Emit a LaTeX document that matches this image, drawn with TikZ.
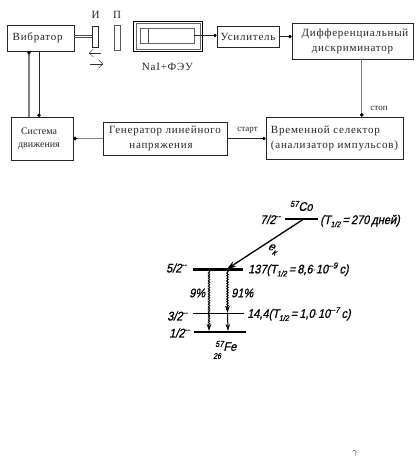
\documentclass[tikz,border=0pt]{standalone}
\usepackage{fontspec}
\setmainfont{Liberation Serif}
\newfontfamily\widefont[LetterSpace=7]{Liberation Serif}
\newfontfamily\scanfont[FakeSlant=0.22,FakeBold=0.9,FakeStretch=0.88]{Liberation Sans}
\usetikzlibrary{arrows.meta,decorations.pathmorphing}
\tikzset{
 blk/.style={draw=black!85,line width=0.8pt,inner sep=0,fill=white,align=center,text=black!85,font=\widefont\fontsize{11}{15}\selectfont},
 lbl/.style={font=\widefont\fontsize{11}{14}\selectfont,inner sep=0,align=center,text=black!85},
 small/.style={font=\fontsize{9}{10}\selectfont,inner sep=0,text=black!85},
 sca/.style={font=\scanfont\fontsize{12.5}{13}\selectfont,inner sep=0,anchor=west},
 gl/.style={draw=black!50,line width=1.2pt},
 bl/.style={draw=black!85,line width=0.7pt},
 dotT/.style={-{Circle[length=3.4pt,black]}},
 lev/.style={line width=2.1pt},
 wav/.style={line width=1pt,decorate,decoration={snake,amplitude=0.7pt,segment length=2.6pt,post length=5pt},-{Stealth[length=7pt,width=4.5pt]}},
}
\newcommand{\Thalf}{T\raisebox{-3pt}{\fontsize{8}{8}\selectfont 1/2}}
\newcommand{\SupIso}[1]{\raisebox{4pt}{\fontsize{8.5}{9}\selectfont #1}}
\newcommand{\SupEx}[1]{\raisebox{5pt}{\fontsize{8.5}{9}\selectfont #1}}
\begin{document}
\begin{tikzpicture}[x=1pt,y=-1pt]
\useasboundingbox (0,0) rectangle (419,460);
% blocks
\node[blk,minimum width=67pt,minimum height=26pt] (vib) at (40.5,38) {\hspace*{-5.6pt}Вибратор};
\node[blk,font=\fontsize{10}{12.5}\selectfont,minimum width=62pt,minimum height=43pt] (sys) at (42,138.5) {\hspace*{-6pt}Система\\\hspace*{-6pt}движения};
\node[blk,minimum width=124pt,minimum height=33pt] (gen) at (165,138.5) {Генератор линейного\\\hspace*{-8pt}напряжения};
\node[blk,align=left,minimum width=137pt,minimum height=42pt] (sel) at (334.5,138) {Временной селектор\\(анализатор импульсов)};
\node[blk,minimum width=62pt,minimum height=21pt] (amp) at (248,36.5) {Усилитель};
\node[blk,minimum width=121pt,minimum height=36pt] (disc) at (352.5,41) {\hspace*{5pt}Дифференциальный\\дискриминатор};
% source and absorber
\node[blk,minimum width=6pt,minimum height=21pt] (src) at (95.7,36.5) {};
\node[blk,draw=black!65,minimum width=6pt,minimum height=25pt] (abs) at (117,37.5) {};
\node[lbl] (srcl) at (95.5,14.5) {И};
\node[lbl] (absl) at (117,14.5) {П};
% detector
\node[blk,draw=black,line width=1.4pt,minimum width=69pt,minimum height=30pt] (det) at (168,36.5) {};
\node[blk,draw=black!60,line width=.7pt,minimum width=64pt,minimum height=26pt] (det2) at (168,36) {};
\node[blk,draw=black!60,line width=.7pt,minimum width=54pt,minimum height=15pt] (pmt) at (167,35.5) {};
\coordinate (pmtA) at (148.5,28);
\coordinate (pmtB) at (148.5,43.5);
\draw[black!70] (pmtA) -- (pmtB);
\node[lbl] (detl) at (167.5,66.5) {NaI+ФЭУ};
% connectors
\coordinate (vibR1) at (74,35.5);
\coordinate (vibR2) at (74,37.8);
\coordinate (srcL1) at (92.7,35.5);
\coordinate (srcL2) at (92.7,37.8);
\draw[black!70,line width=.8pt] (vibR1) -- (srcL1);
\draw[black!70,line width=.8pt] (vibR2) -- (srcL2);
\coordinate (va) at (29,51);
\coordinate (sa) at (29,117);
\coordinate (vb) at (39,51);
\coordinate (sb) at (39,117);
\draw[gl,dotT] (sa) -- (va);
\draw[bl,dotT] (vb) -- (sb);
\draw[gl,dotT] (gen.west) -- (gen.west -| sys.east);
\draw[bl,dotT] (pmt.east) -- (amp.west |- pmt.east);
\draw[bl,dotT] (amp.east) -- (amp.east -| disc.west);
\coordinate (stopA) at (361.7,59);
\draw[gl,dotT] (stopA) -- (stopA |- sel.north);
\draw[bl,dotT] (gen.east) -- (gen.east -| sel.west);
% motion arrows
\coordinate (a1) at (101,53);
\coordinate (a2) at (89,53);
\coordinate (a3) at (90,64);
\coordinate (a4) at (103,64);
\draw[black!80,-{Straight Barb[length=4pt,width=8pt]}] (a1) -- (a2);
\draw[black!80,-{Straight Barb[length=4pt,width=8pt]}] (a3) -- (a4);
\node[small] (stop) at (379,108) {стоп};
\node[small] (start) at (247.5,130) {старт};
% level scheme
\coordinate (l0a) at (285,219); \coordinate (l0b) at (318,219);
\coordinate (l1a) at (193,269.5); \coordinate (l1b) at (243,269.5);
\coordinate (l2a) at (193,313.5); \coordinate (l2b) at (243.5,313.5);
\coordinate (l3a) at (193.5,332); \coordinate (l3b) at (246,332);
\draw[lev] (l0a) -- (l0b);
\draw[lev] (l1a) -- (l1b);
\draw[lev,line width=1.5pt] (l2a) -- (l2b);
\draw[lev] (l3a) -- (l3b);
\coordinate (ec0) at (303,219.5); \coordinate (ec1) at (227,269);
\draw[line width=1.3pt,-{Stealth[length=9pt,width=6pt]}] (ec0) -- (ec1);
\coordinate (w1a) at (209,271); \coordinate (w1b) at (209,331);
\coordinate (w2a) at (227.5,271); \coordinate (w2b) at (227.5,313);
\coordinate (w2c) at (228,331);
\draw[wav] (w1a) -- (w1b);
\draw[wav] (w2a) -- (w2b);
\draw[line width=1pt,-{Stealth[length=7pt,width=4.5pt]}] (w2b) -- (w2c);
\node[sca] (s0) at (260,219.5) {7/2\SupEx{--}};
\node[sca] (c0) at (290,206) {\SupIso{57}Co};
\node[sca] (t0) at (320,221) {(\Thalf\,=\,270\,дней)};
\node[sca,rotate=-25] (ek) at (268,247) {e\raisebox{-3pt}{\fontsize{9}{9}\selectfont к}};
\node[sca] (s1) at (166,268) {5/2\SupEx{--}};
\node[sca] (t1) at (248,269.5) {137(\Thalf\,=\,8,6$\cdot$10\SupEx{--9}\,с)};
\node[sca] (p9) at (189,293) {9\%};
\node[sca] (p91) at (231,293) {91\%};
\node[sca] (s2) at (167,316) {3/2\SupEx{--}};
\node[sca] (t2) at (247,314) {14,4(\Thalf\,=\,1,0$\cdot$10\SupEx{--7}\,с)};
\node[sca] (s3) at (169,333) {1/2\SupEx{--}};
\node[sca] (f1) at (215,346) {\SupIso{57}Fe};
\node[sca,font=\scanfont\fontsize{8}{8}\selectfont] (f2) at (213,356) {26};
\node[small,font=\fontsize{9}{9}\selectfont] (gam) at (355,453) {$\gamma$};
\end{tikzpicture}
\end{document}
